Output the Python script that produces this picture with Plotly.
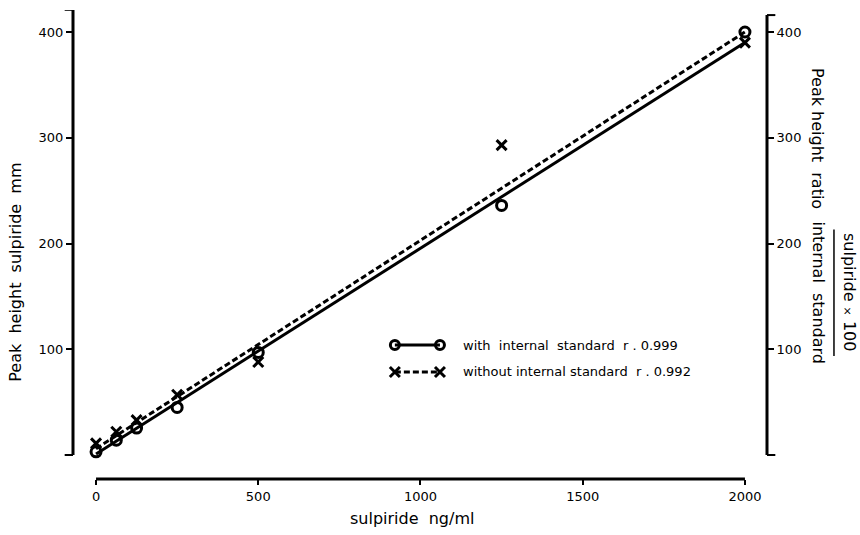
import plotly.graph_objects as go

# ---- data ----
conc = [0, 62.5, 125, 250, 500, 1250, 2000]                # sulpiride ng/ml
with_is = [3, 14, 25.5, 45, 97, 236, 400]                  # circles
without_is = [11, 22, 33, 57, 88, 293, 390]                # crosses
line_with_x = [0, 2000]
line_with_y = [1, 390]          # solid regression line
line_without_x = [0, 2000]
line_without_y = [6, 400]       # dashed regression line
x_ticks = [0, 500, 1000, 1500, 2000]
y_ticks = [100, 200, 300, 400]
legend_labels = ["with  internal  standard  r . 0.999",
                 "without internal standard  r . 0.992"]

FONT = "DejaVu Sans"
BLACK = "#000000"

fig = go.Figure()

fig.add_trace(go.Scatter(x=line_with_x, y=line_with_y, mode="lines",
                         line=dict(color=BLACK, width=3), hoverinfo="skip"))
fig.add_trace(go.Scatter(x=line_without_x, y=line_without_y, mode="lines",
                         line=dict(color=BLACK, width=3, dash="6px,3px"), hoverinfo="skip"))
fig.add_trace(go.Scatter(x=conc, y=with_is, mode="markers",
                         marker=dict(symbol="circle-open", size=10, color=BLACK,
                                     line=dict(width=3, color=BLACK))))
fig.add_trace(go.Scatter(x=conc, y=without_is, mode="markers",
                         marker=dict(symbol="x-thin", size=10, color=BLACK,
                                     line=dict(width=3, color=BLACK))))

# ---- custom legend ----
leg_x = [921, 1060]
leg_y = [104, 78.5]
leg_text_x = 1125
fig.add_trace(go.Scatter(x=leg_x, y=[leg_y[0]] * 2, mode="lines+markers",
                         line=dict(color=BLACK, width=3),
                         marker=dict(symbol="circle-open", size=9, color=BLACK,
                                     line=dict(width=3, color=BLACK))))
fig.add_trace(go.Scatter(x=leg_x, y=[leg_y[1]] * 2, mode="lines+markers",
                         line=dict(color=BLACK, width=3, dash="6px,3px"),
                         marker=dict(symbol="x-thin", size=10, color=BLACK,
                                     line=dict(width=3, color=BLACK))))

annotations = []
for i, t in enumerate(legend_labels):
    annotations.append(dict(x=leg_text_x, y=leg_y[i], xref="x", yref="y", text=t,
                            showarrow=False, xanchor="left", yanchor="middle",
                            font=dict(family=FONT, size=13, color=BLACK)))

# dummy trace to activate right axis
fig.add_trace(go.Scatter(x=[None], y=[None], yaxis="y2", showlegend=False))

shapes = []
# x axis line (0..2000)
shapes.append(dict(type="line", xref="x", yref="paper", x0=0, x1=2000, y0=0, y1=0,
                   line=dict(color=BLACK, width=3)))
# left axis line + brackets
shapes.append(dict(type="line", xref="paper", yref="y", x0=0, x1=0, y0=0, y1=421,
                   line=dict(color=BLACK, width=3)))
shapes.append(dict(type="line", xref="paper", yref="y", x0=-0.012, x1=0, y0=421, y1=421,
                   line=dict(color=BLACK, width=2)))
shapes.append(dict(type="line", xref="paper", yref="y", x0=-0.012, x1=0, y0=0, y1=0,
                   line=dict(color=BLACK, width=2)))
# right axis line + brackets
shapes.append(dict(type="line", xref="paper", yref="y", x0=1, x1=1, y0=0, y1=416,
                   line=dict(color=BLACK, width=3)))
shapes.append(dict(type="line", xref="paper", yref="y", x0=1, x1=1.012, y0=416, y1=416,
                   line=dict(color=BLACK, width=2)))
shapes.append(dict(type="line", xref="paper", yref="y", x0=1, x1=1.012, y0=0, y1=0,
                   line=dict(color=BLACK, width=2)))
# fraction bar in right title
shapes.append(dict(type="line", xref="paper", yref="paper", x0=1.0965, x1=1.0965,
                   y0=0.262, y1=0.532, line=dict(color=BLACK, width=1.5)))

title_font = dict(family=FONT, size=16, color=BLACK)
annotations += [
    dict(text="Peak  height  sulpiride  mm", xref="paper", yref="paper",
         x=-0.082, y=0.44, textangle=-90, showarrow=False,
         xanchor="center", yanchor="middle", font=title_font),
    dict(text="sulpiride  ng/ml", xref="paper", yref="paper",
         x=0.488, y=-0.085, showarrow=False,
         xanchor="center", yanchor="middle", font=title_font),
    dict(text="Peak height  ratio", xref="paper", yref="paper",
         x=1.072, y=0.725, textangle=90, showarrow=False,
         xanchor="center", yanchor="middle", font=title_font),
    dict(text="internal  standard", xref="paper", yref="paper",
         x=1.074, y=0.397, textangle=90, showarrow=False,
         xanchor="center", yanchor="middle", font=title_font),
    dict(text="sulpiride <span style='font-size:11px'>×</span> 100", xref="paper", yref="paper",
         x=1.118, y=0.399, textangle=90, showarrow=False,
         xanchor="center", yanchor="middle", font=title_font),
]

tickfont = dict(family=FONT, size=13, color=BLACK)
fig.update_layout(
    width=860, height=535,
    margin=dict(l=73, r=93, t=10, b=56),
    paper_bgcolor="white", plot_bgcolor="white",
    showlegend=False,
    shapes=shapes, annotations=annotations,
    font=dict(family=FONT, color=BLACK),
    xaxis=dict(range=[-71, 2068], tickvals=x_ticks, showline=False, showgrid=False,
               zeroline=False, ticks="outside", ticklen=5, tickwidth=2, tickcolor=BLACK,
               tickfont=tickfont),
    yaxis=dict(range=[-22.7, 420.8], tickvals=y_ticks, showline=False, showgrid=False,
               zeroline=False, ticks="outside", ticklen=6, tickwidth=2, tickcolor=BLACK,
               tickfont=tickfont),
    yaxis2=dict(range=[-22.7, 420.8], tickvals=y_ticks, overlaying="y", side="right",
                anchor="x", showline=False, showgrid=False, zeroline=False,
                ticks="outside", ticklen=6, tickwidth=2, tickcolor=BLACK,
                tickfont=tickfont),
)

fig.write_html("out.html")
